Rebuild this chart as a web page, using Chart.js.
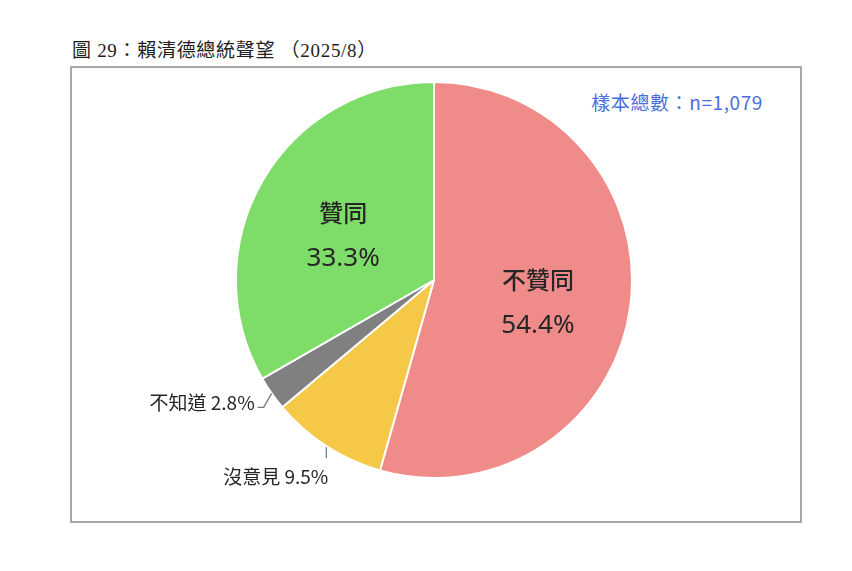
<!DOCTYPE html>
<html lang="zh-Hant">
<head>
<meta charset="utf-8">
<title>賴清德總統聲望</title>
<script src="https://cdn.jsdelivr.net/npm/chart.js@4/dist/chart.umd.min.js"></script>
<style>
  html, body { margin: 0; padding: 0; background: #fff; }
  #wrap { position: relative; width: 852px; height: 571px; overflow: hidden; }
  #title {
    position: absolute; left: 72px; top: 35px;
    font-family: "Liberation Serif", "Noto Sans CJK TC", serif;
    font-size: 19px; font-weight: 400; color: #1e1e1e; white-space: pre; letter-spacing: 0.7px;
  }
  #frame {
    position: absolute; left: 70px; top: 66px; width: 732px; height: 457px;
    box-sizing: border-box; border: 2px solid #a8a8a8;
  }
  #sample {
    position: absolute; right: 89px; top: 88px;
    font-family: "Noto Sans CJK TC", "Noto Sans", sans-serif;
    font-size: 19px; color: #4a6fdc; white-space: pre; letter-spacing: 0.6px;
  }
  canvas { position: absolute; left: 0; top: 0; }
</style>
</head>
<body>
<div id="wrap">
  <div id="title">圖 29：賴清德總統聲望 （2025/8）</div>
  <div id="frame"></div>
  <div id="sample">樣本總數：n=1,079</div>
  <canvas id="chart" width="852" height="571"></canvas>
</div>
<script>
// Survey answers, clockwise from 12 o'clock
const categories = ['不贊同', '沒意見', '不知道', '贊同'];
const shares = [54.4, 9.5, 2.8, 33.3];
const sliceColors = ['#ef8b88', '#f5c947', '#808080', '#7edc68'];

const fmt = v => v.toFixed(1) + '%';

// Labels: big two-line labels inside the large slices, leader-line labels for the small ones
const sliceLabels = {
  id: 'sliceLabels',
  afterDatasetsDraw(chart) {
    const ctx = chart.ctx;
    const meta = chart.getDatasetMeta(0);
    const values = chart.data.datasets[0].data;
    ctx.save();
    meta.data.forEach((arc, i) => {
      const p = arc.getProps(['x', 'y', 'startAngle', 'endAngle', 'outerRadius'], true);
      const mid = (p.startAngle + p.endAngle) / 2;
      const dx = Math.cos(mid), dy = Math.sin(mid);
      const name = chart.data.labels[i];
      const val = fmt(values[i]);
      ctx.fillStyle = '#262626';
      ctx.strokeStyle = '#7a7a7a';
      ctx.lineWidth = 1.3;
      if (values[i] > 20) {
        const cx = p.x + dx * p.outerRadius * 0.53;
        const cy = p.y + dy * p.outerRadius * 0.53 + 8;
        ctx.textAlign = 'center';
        ctx.textBaseline = 'middle';
        ctx.font = '500 24px "Noto Sans CJK TC", sans-serif';
        ctx.fillText(name, cx, cy - 23);
        ctx.font = '400 26px "Noto Sans", "Noto Sans CJK TC", sans-serif';
        ctx.fillText(val, cx, cy + 23);
      } else {
        const ex = p.x + dx * p.outerRadius;
        const ey = p.y + dy * p.outerRadius;
        ctx.font = '400 19px "Noto Sans CJK TC", "Noto Sans", sans-serif';
        ctx.textBaseline = 'middle';
        ctx.beginPath();
        if (dx < -0.7) {
          // side label: short bend then a horizontal stub
          const bx = ex - 8, by = ey + 14;
          ctx.moveTo(ex, ey);
          ctx.lineTo(bx, by);
          ctx.lineTo(bx - 6, by);
          ctx.stroke();
          ctx.textAlign = 'right';
          ctx.fillText(name + ' ' + val, bx - 9, by - 5);
        } else {
          // lower label: vertical drop, text below
          const by = ey + 12;
          ctx.moveTo(ex, ey + 1);
          ctx.lineTo(ex, by);
          ctx.stroke();
          ctx.textAlign = 'right';
          ctx.fillText(name + ' ' + val, ex + 2, by + 19);
        }
      }
    });
    ctx.restore();
  }
};

new Chart(document.getElementById('chart'), {
  type: 'pie',
  data: {
    labels: categories,
    datasets: [{
      data: shares,
      backgroundColor: sliceColors,
      borderColor: '#ffffff',
      borderWidth: 2
    }]
  },
  options: {
    responsive: false,
    animation: false,
    layout: { padding: { left: 235, right: 219, top: 81, bottom: 92 } },
    plugins: {
      legend: { display: false },
      tooltip: { enabled: false }
    }
  },
  plugins: [sliceLabels]
});
</script>
</body>
</html>
